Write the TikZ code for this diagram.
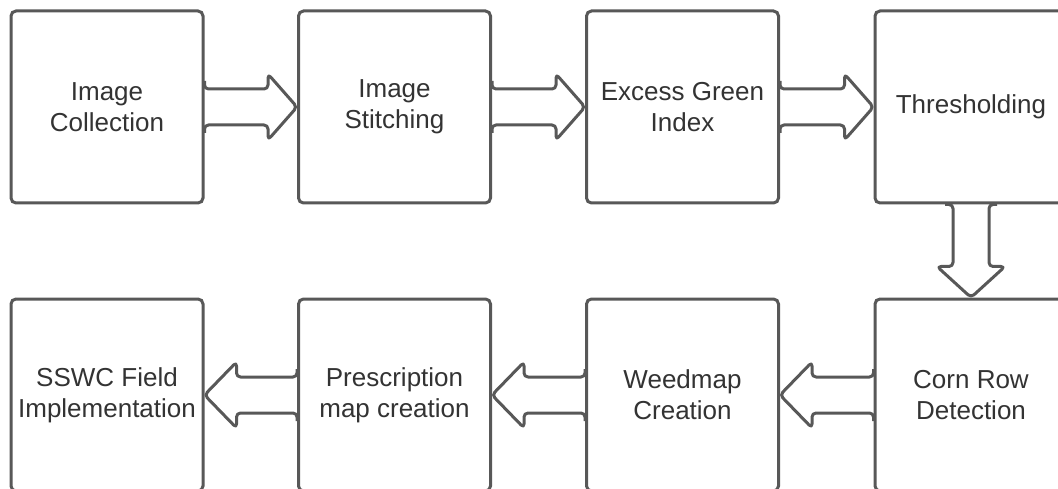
\documentclass[tikz,border=0pt]{standalone}
\usepackage{fontspec}
\setmainfont{Liberation Sans}
\usetikzlibrary{calc}
\definecolor{edge}{HTML}{585858}
\definecolor{txt}{HTML}{333333}
\tikzset{
  box/.style={draw=edge, line width=3pt, rounded corners=5pt, fill=white,
    minimum width=192pt, minimum height=192pt, align=center, text=txt,
    font=\fontsize{26pt}{31pt}\selectfont},
  blockarrow/.style={draw=edge, line width=3pt, rounded corners=4pt, line join=round}
}
\begin{document}
\begin{tikzpicture}[x=1pt,y=-1pt]
\useasboundingbox (0,0) rectangle (1058,489);
\node[box] (b1) at (107,107) {Image\\Collection};
\node[box] (b2) at (394.5,107) {Image\\Stitching};
\node[box] (b3) at (682.5,107) {Excess Green\\Index};
\node[box] (b4) at (971,107) {Thresholding};
\node[box] (b5) at (971,395) {Corn Row\\Detection};
\node[box] (b6) at (682.5,395) {Weedmap\\Creation};
\node[box] (b7) at (394.5,395) {Prescription\\map creation};
\node[box] (b8) at (107,395) {SSWC Field\\Implementation};
% right arrows
\foreach \s/\t in {b1/b2,b2/b3,b3/b4}{
  \draw[blockarrow] ($(\s.east)+(0,-26)$) -- ($(\s.east)+(0,-18)$)
    -- ($(\t.west)+(-29,-18)$) -- ($(\t.west)+(-29,-33)$) -- (\t.west)
    -- ($(\t.west)+(-29,33)$) -- ($(\t.west)+(-29,18)$)
    -- ($(\s.east)+(0,18)$) -- ($(\s.east)+(0,26)$);
}
% down arrow
\draw[blockarrow] ($(b4.south)+(-26,0)$) -- ($(b4.south)+(-18,0)$)
  -- ($(b5.north)+(-18,-31)$) -- ($(b5.north)+(-34,-31)$) -- (b5.north)
  -- ($(b5.north)+(34,-31)$) -- ($(b5.north)+(18,-31)$)
  -- ($(b4.south)+(18,0)$) -- ($(b4.south)+(26,0)$);
% left arrows
\foreach \s/\t in {b5/b6,b6/b7,b7/b8}{
  \draw[blockarrow] ($(\s.west)+(0,-26)$) -- ($(\s.west)+(0,-18)$)
    -- ($(\t.east)+(32,-18)$) -- ($(\t.east)+(32,-33)$) -- (\t.east)
    -- ($(\t.east)+(32,33)$) -- ($(\t.east)+(32,18)$)
    -- ($(\s.west)+(0,18)$) -- ($(\s.west)+(0,26)$);
}
\end{tikzpicture}
\end{document}
